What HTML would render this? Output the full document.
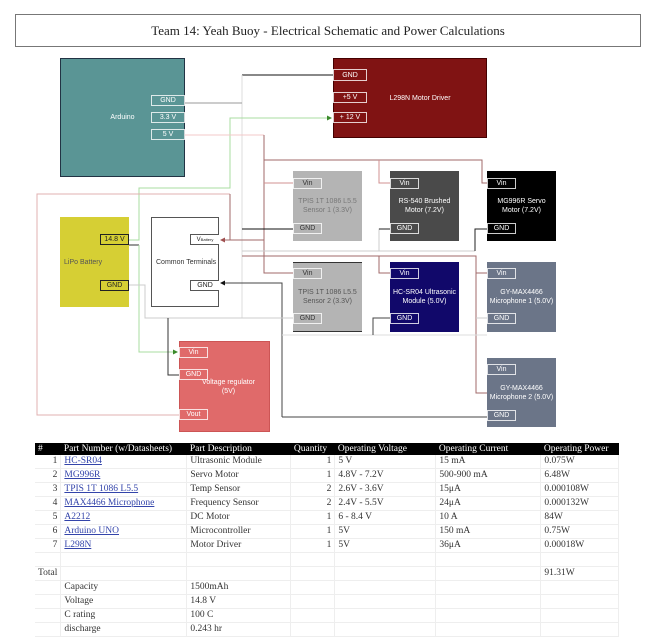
<!DOCTYPE html>
<html><head><meta charset="utf-8"><style>
body{margin:0;width:669px;height:641px;background:#fff;position:relative;font-family:"Liberation Sans",sans-serif;overflow:hidden}
.b{position:absolute;box-sizing:border-box;display:flex;align-items:center;justify-content:center;text-align:center;font-size:7px;color:#fff;line-height:9px}
.p{position:absolute;box-sizing:border-box;border:1px solid rgba(255,255,255,.8);font-size:7px;color:#fff;display:flex;align-items:center;justify-content:center}
.title{position:absolute;left:15px;top:14px;width:626px;height:33px;border:1px solid #777;box-sizing:border-box;font-family:"Liberation Serif",serif;font-size:13px;display:flex;align-items:center;justify-content:center;color:#222}
table{position:absolute;left:35px;top:443px;border-collapse:collapse;font-family:"Liberation Serif",serif;font-size:9.5px;color:#333}
td,th{height:13px;padding:0 3px;white-space:nowrap;border-bottom:1px solid #eee;border-right:1px solid #eee;text-align:left;font-weight:normal;line-height:11px}
th{background:#000;color:#fff;height:12px;border:none}
a{color:#3344aa;text-decoration:underline}
.r{text-align:right}
</style></head><body>
<div class="title">Team 14: Yeah Buoy - Electrical Schematic and Power Calculations</div>
<svg style="position:absolute;left:0;top:0" width="669" height="441">
<defs>
<marker id="ag" markerWidth="5" markerHeight="5" refX="4" refY="2.5" orient="auto"><path d="M0,0L5,2.5L0,5z" fill="#3a8a2a"/></marker>
<marker id="ar" markerWidth="5" markerHeight="5" refX="4" refY="2.5" orient="auto"><path d="M0,0L5,2.5L0,5z" fill="#a05050"/></marker>
<marker id="ak" markerWidth="5" markerHeight="5" refX="4" refY="2.5" orient="auto"><path d="M0,0L5,2.5L0,5z" fill="#111"/></marker>
</defs>
<g fill="none" stroke-width="1">
<polyline points="242,75 333,75" stroke="#111"/>
<polyline points="242,75 242,318" stroke="#ddd"/>
<polyline points="185,103 242,103" stroke="#999"/>
<polyline points="129,240 139,240 139,188 230,188 230,118 331,118" stroke="#a8dca0" marker-end="url(#ag)"/>
<polyline points="129,245 139,245" stroke="#333"/>
<polyline points="139,245 139,352 177,352" stroke="#a8dca0" marker-end="url(#ag)"/>
<polyline points="185,135 264,135" stroke="#f3c8c8"/>
<polyline points="264,135 264,273 293,273" stroke="#a06a6a"/>
<polyline points="264,160 482,160 482,183 487,183" stroke="#a06a6a"/>
<polyline points="379,160 379,183 390,183" stroke="#d09090"/>
<polyline points="264,183 293,183" stroke="#d09090"/>
<polyline points="230,194 37,194 37,415 179,415" stroke="#e0b0b0"/>
<polyline points="230,194 230,240" stroke="#a06a6a"/>
<polyline points="264,240 221,240" stroke="#a06a6a" marker-end="url(#ar)"/>
<polyline points="242,229 293,229" stroke="#111"/>
<polyline points="242,251 475,251" stroke="#ccc"/>
<polyline points="475,251 475,229 487,229" stroke="#222"/>
<polyline points="379,251 379,229 390,229" stroke="#ccc"/>
<polyline points="379,229 390,229" stroke="#222"/>
<polyline points="242,256 476,256 476,393 487,393" stroke="#a06a6a"/>
<polyline points="476,273 487,273" stroke="#a06a6a"/>
<polyline points="379,256 379,273 390,273" stroke="#a06a6a"/>
<polyline points="282,417 282,283 221,283" stroke="#444" marker-end="url(#ak)"/>
<polyline points="282,417 487,417" stroke="#444"/>
<polyline points="129,285 145,285 145,318 293,318" stroke="#ccc"/>
<polyline points="282,335 487,335" stroke="#ddd"/>
<polyline points="476,318 487,318" stroke="#ccc"/>
<polyline points="373,335 373,318 390,318" stroke="#444"/>
<polyline points="168,318 168,375 179,375" stroke="#333"/>
</g>
</svg>
<div class="b" style="left:60px;top:58px;width:125px;height:119px;background:#5a9595;border:1px solid #234">Arduino</div>
<div class="p" style="left:151px;top:95px;width:34px;height:11px">GND</div>
<div class="p" style="left:151px;top:112px;width:34px;height:11px">3.3 V</div>
<div class="p" style="left:151px;top:129px;width:34px;height:11px">5 V</div>
<div class="b" style="left:333px;top:58px;width:154px;height:80px;background:#801313;border:1px solid #400;padding-left:20px">L298N Motor Driver</div>
<div class="p" style="left:333px;top:69px;width:34px;height:12px">GND</div>
<div class="p" style="left:333px;top:92px;width:34px;height:11px">+5 V</div>
<div class="p" style="left:333px;top:112px;width:34px;height:11px">+ 12 V</div>
<div class="b" style="left:293px;top:171px;width:69px;height:70px;background:#b4b4b4;color:#777">TPIS 1T 1086 L5.5<br>Sensor 1 (3.3V)</div>
<div class="b" style="left:390px;top:171px;width:69px;height:70px;background:#4a4a4a">RS-540 Brushed<br>Motor (7.2V)</div>
<div class="b" style="left:487px;top:171px;width:69px;height:70px;background:#000">MG996R Servo<br>Motor (7.2V)</div>
<div class="b" style="left:293px;top:262px;width:69px;height:70px;background:#b4b4b4;color:#555;border-top:1px solid #333;border-bottom:1px solid #333">TPIS 1T 1086 L5.5<br>Sensor 2 (3.3V)</div>
<div class="b" style="left:390px;top:262px;width:69px;height:70px;background:#11086a">HC-SR04 Ultrasonic<br>Module (5.0V)</div>
<div class="b" style="left:487px;top:262px;width:69px;height:70px;background:#6b7588">GY-MAX4466<br>Microphone 1 (5.0V)</div>
<div class="b" style="left:487px;top:358px;width:69px;height:69px;background:#6b7588">GY-MAX4466<br>Microphone 2 (5.0V)</div>
<div class="p" style="left:293px;top:178px;width:29px;height:11px;color:#333">Vin</div>
<div class="p" style="left:293px;top:223px;width:29px;height:11px;color:#333">GND</div>
<div class="p" style="left:390px;top:178px;width:29px;height:11px">Vin</div>
<div class="p" style="left:390px;top:223px;width:29px;height:11px">GND</div>
<div class="p" style="left:487px;top:178px;width:29px;height:11px">Vin</div>
<div class="p" style="left:487px;top:223px;width:29px;height:11px">GND</div>
<div class="p" style="left:293px;top:268px;width:29px;height:11px;color:#333">Vin</div>
<div class="p" style="left:293px;top:313px;width:29px;height:11px;color:#333">GND</div>
<div class="p" style="left:390px;top:268px;width:29px;height:11px">Vin</div>
<div class="p" style="left:390px;top:313px;width:29px;height:11px">GND</div>
<div class="p" style="left:487px;top:268px;width:29px;height:11px">Vin</div>
<div class="p" style="left:487px;top:313px;width:29px;height:11px">GND</div>
<div class="p" style="left:487px;top:364px;width:29px;height:11px">Vin</div>
<div class="p" style="left:487px;top:410px;width:29px;height:11px">GND</div>
<div class="b" style="left:60px;top:217px;width:69px;height:90px;background:#d6cf34;color:#555;justify-content:flex-start;padding-left:4px;font-size:7px">LiPo Battery</div>
<div class="p" style="left:100px;top:234px;width:29px;height:11px;color:#222;border-color:#222">14.8 V</div>
<div class="p" style="left:100px;top:280px;width:29px;height:11px;color:#222;border-color:#222">GND</div>
<div class="b" style="left:151px;top:217px;width:68px;height:90px;background:#fff;border:1px solid #555;color:#333;justify-content:flex-start;padding-left:4px">Common Terminals</div>
<div class="p" style="left:190px;top:234px;width:29px;height:11px;color:#222;border-color:#555;background:#fff;border-right:none;font-size:6px">V<sub style="font-size:4px">Battery</sub></div>
<div class="p" style="left:190px;top:280px;width:29px;height:11px;color:#222;border-color:#555;background:#fff;border-right:none">GND</div>
<div class="b" style="left:179px;top:341px;width:91px;height:91px;background:#e06a6a;border:1px solid #c55;padding-left:8px">Voltage regulator<br>(5V)</div>
<div class="p" style="left:179px;top:347px;width:29px;height:11px">Vin</div>
<div class="p" style="left:179px;top:369px;width:29px;height:11px">GND</div>
<div class="p" style="left:179px;top:409px;width:29px;height:11px">Vout</div>
<table>
<tr><th style="width:19px">#</th><th style="width:120px">Part Number (w/Datasheets)</th><th style="width:98px">Part Description</th><th style="width:38px">Quantity</th><th style="width:95px">Operating Voltage</th><th style="width:99px">Operating Current</th><th style="width:72px">Operating Power</th></tr>
<tr><td class="r">1</td><td><a>HC-SR04</a></td><td>Ultrasonic Module</td><td class="r">1</td><td>5 V</td><td>15 mA</td><td>0.075W</td></tr>
<tr><td class="r">2</td><td><a>MG996R</a></td><td>Servo Motor</td><td class="r">1</td><td>4.8V - 7.2V</td><td>500-900 mA</td><td>6.48W</td></tr>
<tr><td class="r">3</td><td><a>TPIS 1T 1086 L5.5</a></td><td>Temp Sensor</td><td class="r">2</td><td>2.6V - 3.6V</td><td>15μA</td><td>0.000108W</td></tr>
<tr><td class="r">4</td><td><a>MAX4466 Microphone</a></td><td>Frequency Sensor</td><td class="r">2</td><td>2.4V - 5.5V</td><td>24μA</td><td>0.000132W</td></tr>
<tr><td class="r">5</td><td><a>A2212</a></td><td>DC Motor</td><td class="r">1</td><td>6 - 8.4 V</td><td>10 A</td><td>84W</td></tr>
<tr><td class="r">6</td><td><a>Arduino UNO</a></td><td>Microcontroller</td><td class="r">1</td><td>5V</td><td>150 mA</td><td>0.75W</td></tr>
<tr><td class="r">7</td><td><a>L298N</a></td><td>Motor Driver</td><td class="r">1</td><td>5V</td><td>36μA</td><td>0.00018W</td></tr>
<tr><td></td><td></td><td></td><td></td><td></td><td></td><td></td></tr>
<tr><td>Total</td><td></td><td></td><td></td><td></td><td></td><td>91.31W</td></tr>
<tr><td></td><td>Capacity</td><td>1500mAh</td><td></td><td></td><td></td><td></td></tr>
<tr><td></td><td>Voltage</td><td>14.8 V</td><td></td><td></td><td></td><td></td></tr>
<tr><td></td><td>C rating</td><td>100 C</td><td></td><td></td><td></td><td></td></tr>
<tr><td></td><td>discharge</td><td>0.243 hr</td><td></td><td></td><td></td><td></td></tr>
</table>
</body></html>
